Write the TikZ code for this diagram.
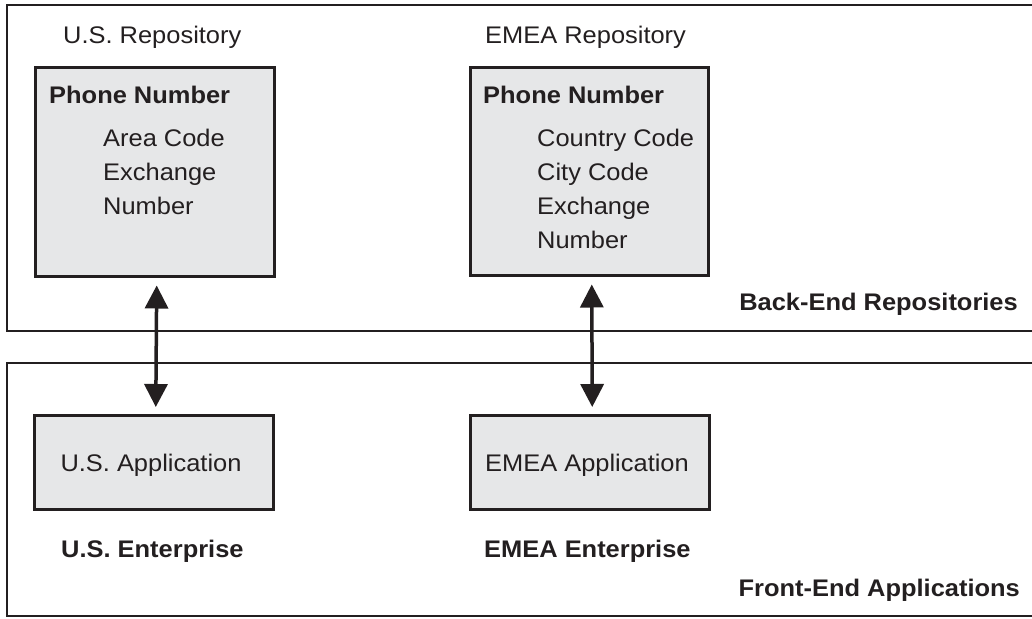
\documentclass[tikz,border=0pt]{standalone}
\usepackage{fontspec}
\setmainfont[FakeStretch=1.06]{Liberation Sans}
\usetikzlibrary{arrows.meta}
\definecolor{ink}{HTML}{231F20}
\definecolor{boxfill}{HTML}{E6E7E8}
\begin{document}
\begin{tikzpicture}[x=1pt,y=-1pt,
  frame/.style={draw=ink,line width=2.5pt},
  box/.style={draw=ink,fill=boxfill,line width=2.5pt,anchor=north west,inner sep=0pt},
  lbl/.style={text=ink,font=\fontsize{24}{28}\selectfont,inner sep=0pt,anchor=base west},
  blbl/.style={text=ink,font=\fontsize{24}{28}\selectfont\bfseries,inner sep=0pt,anchor=base west},
  link/.style={draw=ink,line width=3.5pt,{Triangle[length=23pt,width=23pt]}-{Triangle[length=23pt,width=23pt]},shorten <=8pt,shorten >=7pt}]
\useasboundingbox (0,0) rectangle (1032,618);
% outer frames
\draw[frame] (1034,5) -- (7,5) -- (7,331) -- (1034,331);
\draw[frame] (1034,363) -- (7,363) -- (7,616) -- (1034,616);
% boxes
\node[box,minimum width=239pt,minimum height=209pt] (usrepo) at (34,66) {};
\node[box,minimum width=238pt,minimum height=208pt] (emearepo) at (469,66) {};
\node[box,minimum width=239pt,minimum height=94pt] (usapp) at (33,414) {};
\node[box,minimum width=239pt,minimum height=94pt] (emeaapp) at (469,414) {};
% labels above repositories
\node[lbl] (usrepolbl) at (63,44) {U.S. Repository};
\node[lbl] (emearepolbl) at (485,44) {EMEA Repository};
% US repository content
\node[blbl] (usph) at (49,103) {Phone Number};
\node[lbl] (usac) at (103,146) {Area Code};
\node[lbl] (usex) at (103,180) {Exchange};
\node[lbl] (usnu) at (103,214) {Number};
% EMEA repository content
\node[blbl] (emph) at (483,103) {Phone Number};
\node[lbl] (emcc) at (537,146) {Country Code};
\node[lbl] (emci) at (537,180) {City Code};
\node[lbl] (emex) at (537,214) {Exchange};
\node[lbl] (emnu) at (537,248) {Number};
% application texts
\node[lbl,anchor=base] (usapptxt) at (151,471) {U.S. Application};
\node[lbl,anchor=base] (emeaapptxt) at (587,471) {EMEA Application};
% enterprise labels
\node[blbl] (usent) at (61,557) {U.S. Enterprise};
\node[blbl] (emeaent) at (484,557) {EMEA Enterprise};
% section labels
\node[blbl,anchor=base east] (backend) at (1018,310) {Back-End Repositories};
\node[blbl,anchor=base east] (frontend) at (1020,596) {Front-End Applications};
% arrows
\draw[link] ([xshift=2pt]usrepo.south) -- ([xshift=2pt]usapp.north);
\draw[link] ([xshift=2.5pt]emearepo.south) -- ([xshift=2.5pt]emeaapp.north);
\end{tikzpicture}
\end{document}
